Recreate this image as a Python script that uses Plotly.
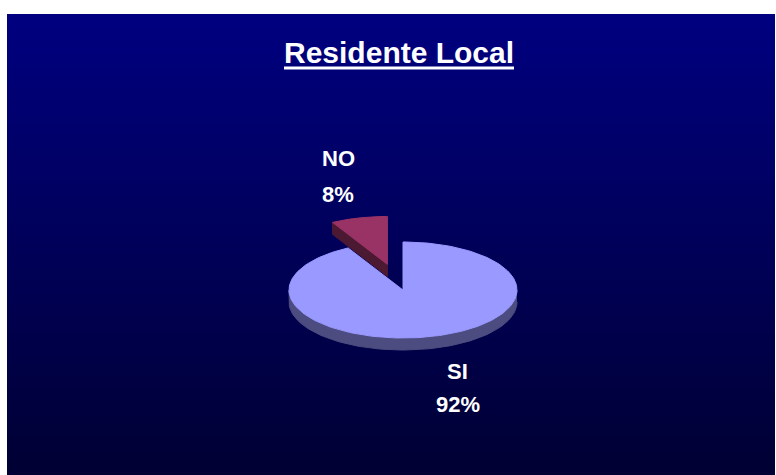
import numpy as np
import plotly.graph_objects as go

# data
labels = ["SI", "NO"]
values = [92, 8]
colors_top = ["#9999FF", "#993366"]
colors_side = ["#4C4C80", "#4C1933"]
title = "Residente Local"

# pie geometry in pixel units
cx, cy = 403, 290
rx, ry = 114, 48
depth = 12
explode = [0, 0.55]

fig = go.Figure()

# gradient background (each strip runs to the bottom so there are no seams)
x0, x1, y0, y1 = 7, 775, 14, 475
c_top = np.array([0, 0, 128])
c_bot = np.array([0, 0, 52])
n = 92
edges = np.linspace(y0, y1, n + 1)
for i in range(n):
    c = c_top + (c_bot - c_top) * (i / (n - 1))
    fig.add_shape(type="rect", xref="x", yref="y", layer="below",
                  x0=x0, x1=x1, y0=edges[i], y1=y1,
                  fillcolor="rgb(%d,%d,%d)" % tuple(c.astype(int)), line_width=0)


def pt(theta, dx=0, dy=0, down=0):
    t = np.radians(theta)
    return cx + dx + rx * np.sin(t), cy + dy - ry * np.cos(t) + down


total = sum(values)
# angles clockwise from 12 o'clock; first slice starts at top
starts = np.cumsum([0] + values[:-1]) / total * 360
ends = np.cumsum(values) / total * 360

slices = []
for lab, v, a0, a1, k, ct, cs in zip(labels, values, starts, ends, explode, colors_top, colors_side):
    mid = np.radians((a0 + a1) / 2)
    dx = k * rx * np.sin(mid)
    dy = -k * ry * np.cos(mid)
    slices.append((lab, v, a0, a1, dx, dy, ct, cs))

# draw back slices first (exploded one sits behind)
for lab, v, a0, a1, dx, dy, ct, cs in sorted(slices, key=lambda s: s[5]):
    # outer front wall
    lo, hi = max(a0, 90), min(a1, 270)
    if hi > lo:
        th = np.linspace(lo, hi, 80)
        xs_t, ys_t = pt(th, dx, dy)
        xs_b, ys_b = pt(th[::-1], dx, dy, depth)
        fig.add_trace(go.Scatter(x=np.r_[xs_t, xs_b], y=np.r_[ys_t, ys_b], fill="toself",
                                 fillcolor=cs, mode="lines", line=dict(color=cs, width=1),
                                 hoverinfo="skip", showlegend=False))
    # radial wall on the counter-clockwise edge (faces viewer for upper-left edges)
    t = np.radians(a0)
    if np.cos(t) > 0 and np.sin(t) < 0:
        ox, oy = pt(a0, dx, dy)
        ax_, ay_ = cx + dx, cy + dy
        fig.add_trace(go.Scatter(x=[ox, ax_, ax_, ox, ox], y=[oy, ay_, ay_ + depth, oy + depth, oy],
                                 fill="toself", fillcolor=cs, mode="lines",
                                 line=dict(color=cs, width=1), hoverinfo="skip", showlegend=False))
    # top face
    th = np.linspace(a0, a1, 200)
    xs, ys = pt(th, dx, dy)
    fig.add_trace(go.Scatter(x=np.r_[cx + dx, xs, cx + dx], y=np.r_[cy + dy, ys, cy + dy],
                             fill="toself", fillcolor=ct, mode="lines",
                             line=dict(color=ct, width=1), hoverinfo="skip", showlegend=False))

# labels
label_pos = {"NO": (338, 158, 338, 194), "SI": (457, 371, 458, 404)}
for lab, v in zip(labels, values):
    lx, ly, px, py = label_pos[lab]
    fig.add_annotation(x=lx, y=ly, text="<b>%s</b>" % lab, showarrow=False,
                       font=dict(size=22, color="white", family="Liberation Sans, Arial"))
    fig.add_annotation(x=px, y=py, text="<b>%d%%</b>" % round(v / total * 100), showarrow=False,
                       font=dict(size=22, color="white", family="Liberation Sans, Arial"))

# title with underline
fig.add_annotation(x=399, y=52, text="<b>%s</b>" % title, showarrow=False,
                   font=dict(size=30, color="white", family="Liberation Sans, Arial"))
fig.add_shape(type="line", xref="x", yref="y", x0=284, x1=514, y0=68, y1=68,
              line=dict(color="white", width=3))

fig.update_layout(
    width=776, height=475,
    margin=dict(l=0, r=0, t=0, b=0),
    paper_bgcolor="white", plot_bgcolor="rgba(0,0,0,0)",
    xaxis=dict(range=[0, 776], visible=False, fixedrange=True),
    yaxis=dict(range=[475, 0], visible=False, fixedrange=True),
    showlegend=False,
)

# drop the default page margin so the figure fills the window exactly
fig.write_html("out.html", config={"displayModeBar": False},
               post_script="document.body.style.margin='0';")
